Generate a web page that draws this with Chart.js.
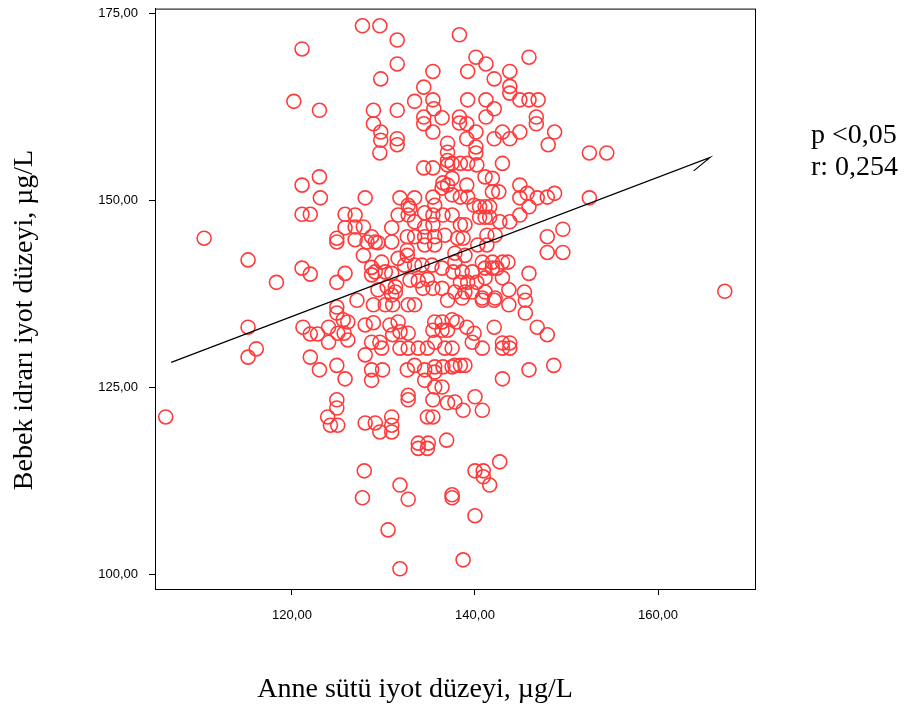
<!DOCTYPE html>
<html>
<head>
<meta charset="utf-8">
<script src="https://cdn.jsdelivr.net/npm/chart.js@4"></script>
<style>
  html, body { margin: 0; padding: 0; background: #fff; }
  #wrap { width: 907px; height: 715px; position: relative; }
</style>
</head>
<body>
<div id="wrap"><canvas id="iodineChart" width="907" height="715"></canvas></div>
<script>
// breast milk iodine (x) vs infant urine iodine (y), µg/L
const milkIodine = [
  106.2, 110.4, 115.2, 115.2, 115.2, 116.1, 118.3, 120.2, 121.1, 121.1,
  121.1, 122.0, 121.1, 122.0, 121.2, 122.0, 122.8, 122.0, 123.0, 123.0,
  123.1, 123.0, 124.0, 124.0, 123.9, 124.2, 125.0, 124.9, 124.9, 124.9,
  124.9, 124.9, 124.9, 125.6, 124.9, 125.0, 125.7, 124.9, 125.8, 125.8,
  125.8, 125.8, 126.1, 126.1,
  134.4, 135.4, 137.0, 137.0, 136.5, 137.0, 136.4, 128.0, 131.8, 133.4,
  135.4, 132.7, 132.9, 135.6, 126.9, 131.6, 132.7, 134.5, 135.4, 136.5,
  133.4, 127.8, 126.9, 130.9, 134.5, 135.4, 128.7, 129.1, 129.4, 128.2,
  130.9, 132.6, 133.4, 134.5, 135.6, 136.7, 126.9, 132.6, 132.6, 131.6,
  134.5, 135.6, 127.8, 128.7, 129.1, 128.7, 129.8, 132.3, 133.4, 134.2,
  130.2, 130.9, 135.3, 136.4, 132.9, 133.8, 134.8, 130.4, 131.3, 129.4,
  131.3, 130.9, 134.3, 135.4, 136.4,
  127.7, 129.6, 131.5, 131.5, 135.4, 129.7, 134.4, 133.4, 135.4, 135.5,
  128.9, 131.5, 136.4, 134.4, 134.4, 128.9, 135.4, 129.7, 129.7, 131.5,
  131.5, 129.6, 137.0, 137.0,
  138.3, 140.1, 145.9, 141.2, 139.2, 143.8, 142.1, 143.8, 143.8, 139.2,
  141.2, 144.9, 145.9, 146.9, 142.1, 141.2, 146.7, 146.7, 138.3, 138.3,
  139.1, 140.1, 143.0, 144.9, 148.7, 139.1, 142.1, 143.8, 148.0, 140.1,
  140.1,
  137.5, 138.4, 139.2, 140.2, 143.0, 139.1, 141.1, 141.9, 144.9, 141.9,
  142.6, 137.5, 138.4, 139.2, 144.9, 146.8, 147.9, 148.7, 139.9, 140.5,
  141.1, 141.6, 141.1, 141.6, 140.5, 142.7, 143.8, 144.9, 145.9, 137.5,
  138.4, 138.9, 141.3, 142.2, 147.9, 147.9, 138.1, 138.7, 141.3, 140.3,
  137.8, 137.8, 138.9, 140.8, 141.9, 143.0, 143.6, 137.6, 138.6, 139.7,
  141.1, 141.9, 142.4, 141.1, 143.0, 145.9, 138.4, 139.2, 140.2, 143.7,
  145.4, 141.1, 137.8, 138.9, 139.7, 138.6, 140.8, 142.2, 137.5, 145.7,
  127.1, 128.9, 130.2, 131.0, 132.7, 133.4, 137.0, 128.0, 128.9, 130.7,
  131.6, 131.8, 132.7, 131.0, 128.7, 129.6, 129.8, 131.8, 132.7, 133.8,
  134.8, 135.6, 135.6, 135.4, 136.4, 136.4, 137.0, 137.5, 136.7, 137.5,
  128.0, 128.7, 128.7, 129.9, 132.6, 133.4, 134.5, 134.5, 135.6, 135.6,
  136.5, 137.5, 135.6, 136.4, 132.7, 132.7, 135.4, 137.0, 134.8, 135.4,
  128.0, 129.1, 129.6, 130.9, 130.9, 130.9, 133.8, 134.9, 136.9,
  140.8, 142.1, 143.7, 145.5, 138.0, 139.1, 139.9, 139.7, 140.8, 142.1,
  145.5, 146.8, 147.9, 143.0, 143.8, 143.0, 143.8, 137.8, 138.4, 138.9,
  145.9, 148.6, 143.0, 137.8, 138.7, 140.0, 140.8,
  127.9, 127.7, 131.8, 132.7, 130.5, 131.8, 133.8, 134.8, 137.5, 137.5,
  142.7, 140.0, 140.9, 140.9, 141.6, 140.0, 138.7,
  152.5, 154.4, 152.5, 149.6, 149.6, 167.3
];
const infantIodine = [
  121.0, 144.9, 142.0, 133.0, 129.0, 130.1, 139.0, 163.2, 170.2, 152.0,
  148.1, 148.1, 140.9, 140.1, 133.0, 132.1, 132.1, 129.0, 162.0, 153.1,
  150.3, 127.3, 133.0, 131.0, 121.0, 119.9, 119.9, 123.3, 122.2, 144.9,
  144.4, 139.0, 135.7, 134.0, 134.9, 132.2, 132.2, 127.9, 126.1, 148.1,
  146.3, 140.2, 133.7, 131.3,
  154.3, 154.3, 155.3, 154.7, 152.3, 152.0, 151.6, 150.3, 150.3, 150.3,
  150.4, 149.3, 148.9, 149.3, 148.0, 148.0, 148.0, 148.3, 148.0, 148.0,
  147.1, 146.4, 146.4, 146.3, 146.4, 146.7, 145.1, 144.4, 144.3, 144.4,
  144.4, 145.1, 145.1, 145.1, 145.1, 145.3, 144.7, 143.3, 142.6, 142.2,
  144.0, 144.0, 142.6, 141.0, 140.4, 140.0, 141.7, 141.3, 141.3, 141.3,
  140.4, 140.2, 141.3, 140.9, 139.3, 139.2, 139.4, 138.4, 138.4, 138.0,
  137.7, 137.3, 138.2, 138.2, 138.2,
  173.3, 173.3, 171.4, 168.2, 167.2, 166.2, 165.1, 163.2, 163.4, 162.2,
  162.0, 162.0, 161.0, 161.1, 160.2, 160.2, 159.1, 159.1, 158.0, 158.2,
  157.4, 156.3, 157.6, 156.4,
  172.1, 169.1, 169.1, 168.2, 167.2, 167.2, 166.2, 165.2, 164.3, 163.4,
  163.4, 163.4, 163.4, 163.4, 162.2, 161.1, 161.1, 160.2, 161.1, 160.3,
  160.2, 159.1, 159.1, 159.1, 159.1, 158.2, 158.2, 158.2, 157.4, 157.1,
  156.3,
  154.9, 154.9, 154.9, 154.7, 154.9, 152.0, 153.1, 152.9, 152.0, 151.1,
  151.1, 150.7, 150.4, 150.4, 150.3, 150.3, 150.4, 150.9, 149.3, 149.1,
  149.1, 149.1, 147.7, 147.7, 147.7, 147.1, 147.1, 148.0, 149.1, 148.0,
  146.7, 146.7, 145.3, 145.3, 145.1, 143.0, 144.9, 144.9, 144.0, 144.0,
  142.9, 141.7, 142.6, 141.7, 141.7, 141.7, 141.7, 140.4, 140.4, 140.4,
  140.9, 140.9, 140.9, 139.6, 139.6, 140.2, 139.0, 139.0, 139.0, 138.0,
  137.7, 137.7, 137.7, 137.7, 137.7, 136.9, 136.9, 136.9, 152.9, 150.9,
  136.6, 136.0, 136.0, 136.0, 136.0, 136.0, 136.6, 133.3, 133.6, 133.3,
  133.7, 132.4, 132.2, 132.0, 131.0, 131.0, 130.2, 130.2, 130.2, 130.2,
  130.2, 131.0, 133.7, 132.6, 133.7, 132.6, 132.6, 134.0, 130.2, 130.2,
  129.3, 127.3, 125.9, 127.3, 127.3, 127.9, 127.3, 125.9, 127.7, 127.0,
  127.7, 127.7, 125.0, 125.0, 123.9, 123.3, 123.3, 122.9, 121.0, 121.0,
  120.2, 120.2, 119.0, 121.0, 119.9, 119.0, 117.5, 117.5, 117.9,
  136.6, 136.6, 136.0, 136.6, 133.7, 133.0, 132.2, 131.0, 130.2, 133.0,
  134.9, 133.0, 132.0, 130.9, 130.9, 130.2, 130.2, 127.9, 127.9, 127.9,
  127.3, 127.9, 126.1, 123.0, 121.9, 123.7, 121.9,
  113.8, 110.2, 111.9, 110.0, 105.9, 100.7, 116.8, 116.8, 110.6, 110.2,
  115.0, 113.8, 113.8, 113.0, 111.9, 107.8, 101.9,
  156.3, 156.3, 150.3, 146.1, 143.0, 137.8
];

// fitted line, drawn as a short polyline with the little end hook
const fitX = [106.8, 165.7, 163.9];
const fitY = [128.3, 155.7, 153.9];

const xTicks = [120, 140, 160];
const yTicks = [100, 125, 150, 175];
const statLines = ['p <0,05', 'r: 0,254'];
const xTitle = 'Anne sütü iyot düzeyi, µg/L';
const yTitle = 'Bebek idrarı iyot düzeyi, µg/L';

const fmt = v => v.toFixed(2).replace('.', ',');

// frame round the plot + axis titles + stats text
const framePlugin = {
  id: 'frame',
  afterDraw(chart) {
    const { ctx, chartArea: a } = chart;
    ctx.save();
    ctx.strokeStyle = '#000';
    ctx.lineWidth = 1;
    ctx.strokeRect(a.left + 0.5, a.top + 0.5, a.right - a.left, a.bottom - a.top);

    ctx.fillStyle = '#000';
    ctx.font = '28px "Liberation Serif", "Times New Roman", serif';
    ctx.textAlign = 'center';
    ctx.textBaseline = 'middle';
    ctx.fillText(xTitle, 415, 690);

    ctx.translate(25, 320);
    ctx.rotate(-Math.PI / 2);
    ctx.fillText(yTitle, 0, 0);
    ctx.restore();

    ctx.save();
    ctx.fillStyle = '#000';
    ctx.font = '28px "Liberation Serif", "Times New Roman", serif';
    ctx.textAlign = 'left';
    ctx.textBaseline = 'middle';
    statLines.forEach((s, i) => ctx.fillText(s, 811, 136 + i * 32));
    ctx.restore();
  }
};

const points = milkIodine.map((x, i) => ({ x, y: infantIodine[i] }));
const fitLine = fitX.map((x, i) => ({ x, y: fitY[i] }));

// keep the plot box exactly where the layout puts it
const noScalePad = s => {
  s.paddingTop = 0;
  s.paddingBottom = 0;
  s.paddingLeft = 0;
  s.paddingRight = 0;
};

new Chart(document.getElementById('iodineChart'), {
  type: 'scatter',
  data: {
    datasets: [
      {
        data: fitLine,
        showLine: true,
        borderColor: '#000',
        borderWidth: 1.2,
        pointRadius: 0,
        order: 0
      },
      {
        data: points,
        pointStyle: 'circle',
        pointRadius: 7,
        borderWidth: 1.6,
        borderColor: '#ff3a3a',
        backgroundColor: 'rgba(0,0,0,0)',
        order: 1
      }
    ]
  },
  options: {
    responsive: false,
    animation: false,
    devicePixelRatio: 1,
    layout: { padding: { left: 0, right: 152, top: 8, bottom: 0 } },
    plugins: { legend: { display: false }, tooltip: { enabled: false } },
    scales: {
      x: {
        type: 'linear',
        min: 105.03,
        max: 170.6,
        afterFit: s => { s.height = 126; noScalePad(s); },
        afterBuildTicks: s => { s.ticks = xTicks.map(v => ({ value: v })); },
        grid: { drawOnChartArea: false, tickLength: 6, tickColor: '#000', tickWidth: 1 },
        border: { color: '#000', width: 1 },
        ticks: {
          padding: 13,
          color: '#000',
          font: { family: '"Liberation Sans", Arial, sans-serif', size: 13 },
          callback: v => fmt(v)
        }
      },
      y: {
        type: 'linear',
        min: 98.0,
        max: 175.6,
        afterFit: s => { s.width = 155; noScalePad(s); },
        afterBuildTicks: s => { s.ticks = yTicks.map(v => ({ value: v })); },
        grid: { drawOnChartArea: false, tickLength: 6, tickColor: '#000', tickWidth: 1 },
        border: { color: '#000', width: 1 },
        ticks: {
          padding: 11,
          color: '#000',
          font: { family: '"Liberation Sans", Arial, sans-serif', size: 13 },
          callback: v => fmt(v)
        }
      }
    }
  },
  plugins: [framePlugin]
});
</script>
</body>
</html>
